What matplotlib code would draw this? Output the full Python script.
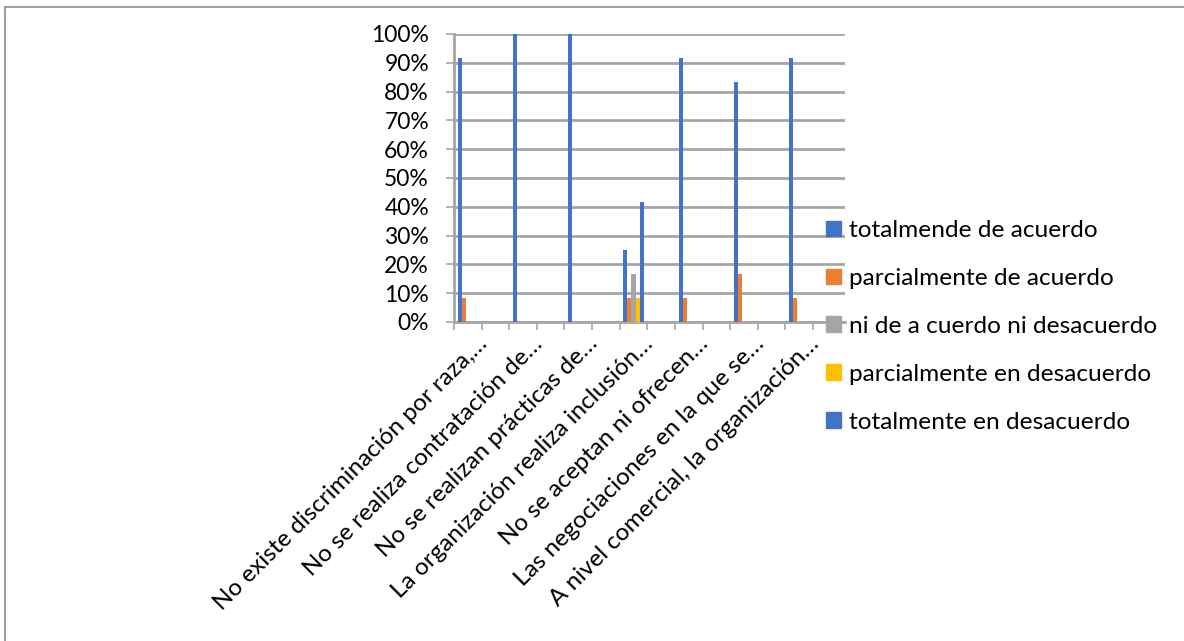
import numpy as np
import matplotlib
matplotlib.use("Agg")
import matplotlib.pyplot as plt
from matplotlib.lines import Line2D
from matplotlib.transforms import offset_copy

plt.rcParams['font.family'] = ['Lato', 'DejaVu Sans']

questions = [
    "No existe discriminación por raza,…",
    "No se realiza contratación de…",
    "No se realizan prácticas de…",
    "La organización realiza inclusión…",
    "No se aceptan ni ofrecen…",
    "Las negociaciones en la que se…",
    "A nivel comercial, la organización…",
]
series_names = [
    "totalmende de acuerdo",
    "parcialmente de acuerdo",
    "ni de a cuerdo ni desacuerdo",
    "parcialmente en desacuerdo",
    "totalmente en desacuerdo",
]
totalmente_acuerdo = [91.67, 100, 100, 25, 91.67, 83.33, 91.67]
parcial_acuerdo = [8.33, 0, 0, 8.33, 8.33, 16.67, 8.33]
ni_ni = [0, 0, 0, 16.67, 0, 0, 0]
parcial_desacuerdo = [0, 0, 0, 8.33, 0, 0, 0]
totalmente_desacuerdo = [0, 0, 0, 41.67, 0, 0, 0]
colors = ["#4472C4", "#ED7D31", "#A5A5A5", "#FFC000", "#4472C4"]

values = [totalmente_acuerdo, parcial_acuerdo, ni_ni,
          parcial_desacuerdo, totalmente_desacuerdo]

fig = plt.figure(figsize=(11.84, 6.41), dpi=100)
W, H = 1184, 641
ax = fig.add_axes([454 / W, 1 - 322 / H, (845 - 454) / W, (322 - 34) / H])

# questions sit on every other category slot (Excel skipped the in-between labels)
n_slots = 2 * len(questions) - 1
pos = np.arange(len(questions)) * 2
bw = 0.145
for i, (vals, c) in enumerate(zip(values, colors)):
    ax.bar(pos + (i - 2) * bw, np.array(vals) / 100, width=bw, color=c,
           label=series_names[i], zorder=3)

grid_c = "#A6A6A6"
ax.set_ylim(0, 1.0)
ax.set_yticks(np.arange(0, 1.01, 0.1))
ax.set_yticklabels([f"{int(round(t * 100))}%" for t in np.arange(0, 1.01, 0.1)],
                   fontsize=16.5)
ax.yaxis.grid(True, color=grid_c, linewidth=2, zorder=0)
ax.set_axisbelow(True)
ax.tick_params(axis='y', length=6, width=1.2, color=grid_c, pad=12)

slot_w = (813 - 454) / n_slots
ax.set_xlim(-0.5, -0.5 + (845 - 454) / slot_w)
ax.set_xticks(np.arange(n_slots + 1) - 0.5)
ax.set_xticklabels([])
ax.tick_params(axis='x', length=6, width=1.2, color=grid_c)

for s in ['top', 'right']:
    ax.spines[s].set_visible(False)
ax.spines['left'].set_color(grid_c)
ax.spines['left'].set_linewidth(2)
ax.spines['bottom'].set_color(grid_c)
ax.spines['bottom'].set_linewidth(2)

for p, q in zip(pos, questions):
    tr = offset_copy(ax.get_xaxis_transform(), fig=fig, x=9, y=-11, units='dots')
    ax.text(p, 0, q, transform=tr, rotation=45, rotation_mode='anchor',
            ha='right', va='top', fontsize=17.5)

handles = [plt.Rectangle((0, 0), 1, 1, color=c) for c in colors]
fig.legend(handles, series_names, loc='upper left',
           bbox_to_anchor=(826 / W, 1 - 220 / H), frameon=False, fontsize=17.6,
           handlelength=0.6, handleheight=0.6, handletextpad=0.35,
           labelspacing=1.1, borderaxespad=0, borderpad=0)

# chart border (only top and left edges are visible)
fig.add_artist(Line2D([5 / W, 5 / W], [0, 1 - 7 / H], color="#A0A0A0", linewidth=1.5))
fig.add_artist(Line2D([5 / W, 1], [1 - 7 / H, 1 - 7 / H], color="#A0A0A0", linewidth=1.5))

fig.savefig("out.png", dpi=100)
